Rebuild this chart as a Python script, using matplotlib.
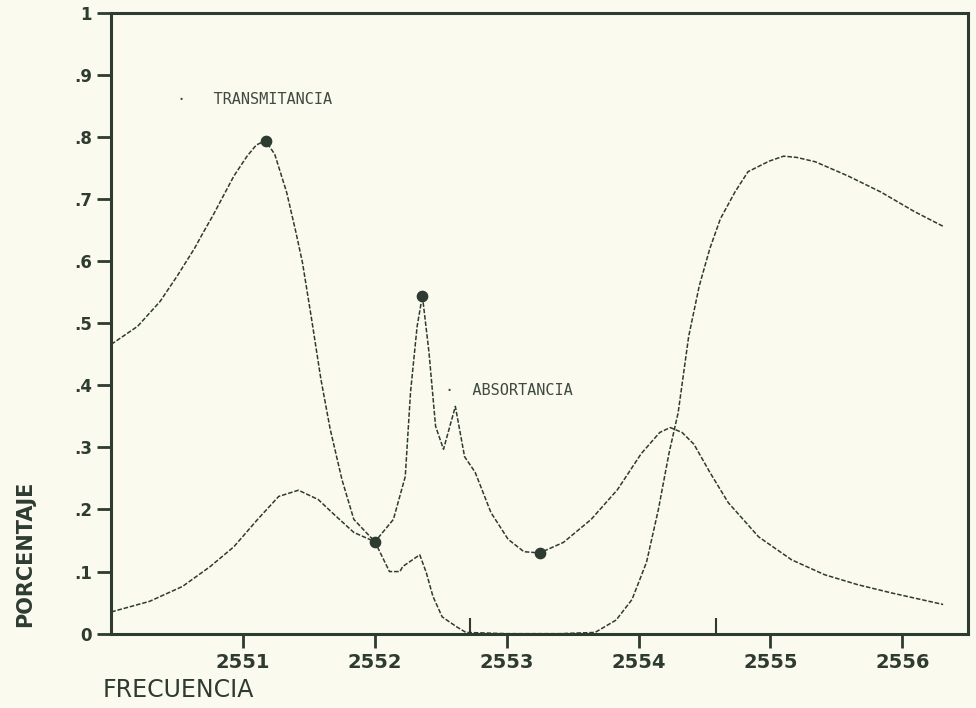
import matplotlib
matplotlib.use("Agg")
import matplotlib.pyplot as plt

# frecuencia (meV) / porcentaje
trans_x = [2550.00, 2550.20, 2550.37, 2550.50, 2550.63, 2550.70, 2550.77, 2550.93,
           2551.03, 2551.10, 2551.17, 2551.24, 2551.33, 2551.40, 2551.45, 2551.52, 2551.59,
           2551.66, 2551.75, 2551.84, 2552.00, 2552.11, 2552.19, 2552.21, 2552.34,
           2552.39, 2552.44, 2552.51, 2552.62, 2552.69, 2553.00, 2553.40, 2553.67,
           2553.83, 2553.95, 2554.06, 2554.15, 2554.23, 2554.30, 2554.38, 2554.46,
           2554.54, 2554.62, 2554.73, 2554.83, 2554.99, 2555.10, 2555.20, 2555.34,
           2555.59, 2555.84, 2556.09, 2556.31]
trans_y = [0.466, 0.495, 0.535, 0.576, 0.620, 0.647, 0.673, 0.737,
           0.769, 0.787, 0.794, 0.772, 0.711, 0.647, 0.598, 0.506, 0.410,
           0.330, 0.248, 0.184, 0.148, 0.100, 0.100, 0.108, 0.127,
           0.098, 0.060, 0.027, 0.011, 0.002, 0.0, 0.0, 0.002,
           0.022, 0.055, 0.115, 0.200, 0.290, 0.356, 0.479, 0.560,
           0.620, 0.668, 0.711, 0.744, 0.761, 0.769, 0.767, 0.760,
           0.737, 0.711, 0.680, 0.656]

abs_x = [2550.00, 2550.29, 2550.54, 2550.75, 2550.93, 2551.11, 2551.27, 2551.42,
         2551.57, 2551.69, 2551.84, 2552.00, 2552.14, 2552.23, 2552.27, 2552.32,
         2552.36, 2552.41, 2552.46, 2552.52, 2552.61, 2552.68, 2552.76, 2552.88,
         2553.01, 2553.13, 2553.25, 2553.43, 2553.64, 2553.84, 2554.02, 2554.16,
         2554.24, 2554.33, 2554.42, 2554.54, 2554.68, 2554.91, 2555.16, 2555.41,
         2555.66, 2555.91, 2556.31]
abs_y = [0.035, 0.052, 0.076, 0.108, 0.140, 0.184, 0.221, 0.231,
         0.216, 0.192, 0.163, 0.148, 0.184, 0.253, 0.389, 0.495,
         0.544, 0.453, 0.334, 0.297, 0.366, 0.285, 0.260, 0.195,
         0.152, 0.132, 0.130, 0.147, 0.184, 0.232, 0.290, 0.324,
         0.332, 0.324, 0.305, 0.260, 0.211, 0.156, 0.119, 0.095,
         0.079, 0.066, 0.047]

# puntos marcados
dots_x = [2551.17, 2552.00, 2552.36, 2553.25]
dots_y = [0.794, 0.148, 0.544, 0.130]

# marcas pequenas sobre el eje de frecuencia
marks_x = [2552.72, 2554.59]

xticks = [2551, 2552, 2553, 2554, 2555, 2556]
yticks = [0, 0.1, 0.2, 0.3, 0.4, 0.5, 0.6, 0.7, 0.8, 0.9, 1.0]
ylabels = ["0", ".1", ".2", ".3", ".4", ".5", ".6", ".7", ".8", ".9", "1"]

ink = "#2e3b30"
paper = "#fbfaef"

fig = plt.figure(figsize=(9.76, 7.08), dpi=100, facecolor=paper)
ax = fig.add_axes([0.114, 0.105, 0.878, 0.877], facecolor=paper)

ax.plot(trans_x, trans_y, color=ink, lw=1.1, ls=(0, (3, 1.2)))
ax.plot(abs_x, abs_y, color=ink, lw=1.1, ls=(0, (3, 1.2)))
ax.scatter(dots_x, dots_y, s=55, color=ink, zorder=3)
ax.vlines(marks_x, 0, 0.025, color=ink, lw=1.5)

ax.set_xlim(2550, 2556.5)
ax.set_ylim(0, 1)
ax.set_xticks(xticks)
ax.set_xticklabels([str(t) for t in xticks], fontsize=14, fontweight="bold",
                   family="DejaVu Sans Condensed", color=ink)
ax.set_yticks(yticks)
ax.set_yticklabels(ylabels, fontsize=12, fontweight="bold", color=ink)
ax.tick_params(axis="both", direction="out", length=10, width=2, color=ink, pad=4)

for s in ax.spines.values():
    s.set_linewidth(2.2)
    s.set_color(ink)

ax.text(2550.50, 0.861, "·   TRANSMITANCIA", family="DejaVu Sans Mono",
        fontsize=11, color="#3f4a40", va="center")
ax.text(2552.53, 0.392, "·  ABSORTANCIA", family="DejaVu Sans Mono",
        fontsize=11, color="#3f4a40", va="center")

fig.text(0.026, 0.115, "PORCENTAJE", rotation=90, fontsize=15, fontweight="bold",
         family="DejaVu Sans Condensed", color=ink, va="bottom", ha="center")
fig.text(0.105, 0.025, "FRECUENCIA", fontsize=17, family="DejaVu Sans Condensed",
         color=ink, va="center", ha="left")

fig.savefig("out.png", dpi=100, facecolor=paper)
